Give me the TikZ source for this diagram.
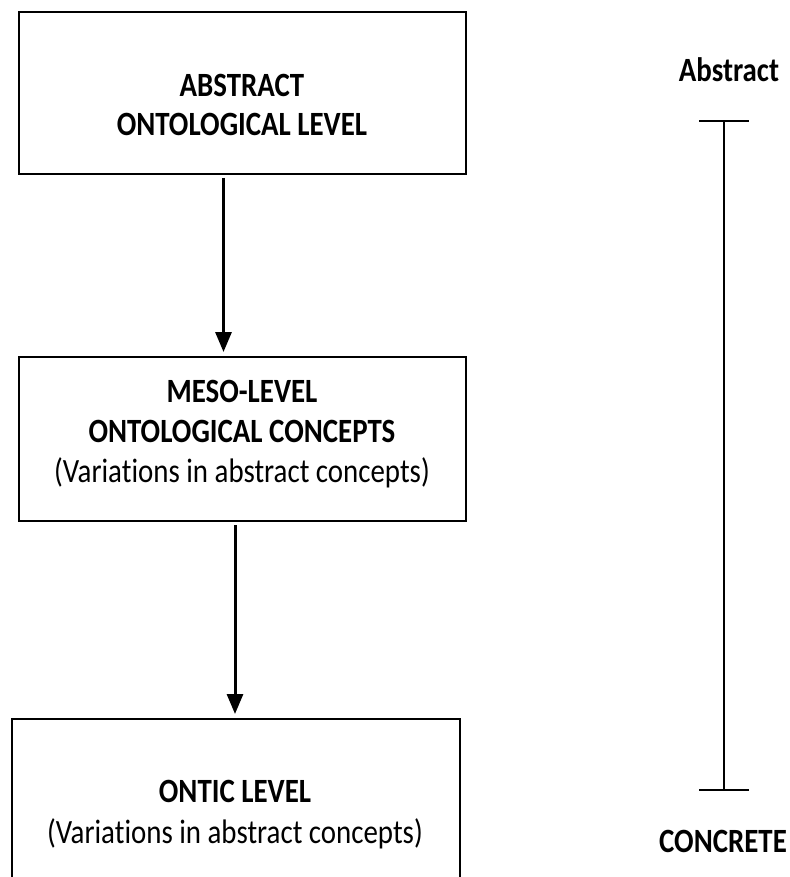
\documentclass[tikz,border=0pt]{standalone}
\usepackage{fontspec}
\setmainfont{Carlito}[FakeStretch=0.85, Ligatures=NoCommon]
\usetikzlibrary{arrows.meta}
\tikzset{
  levelbox/.style={draw=black, line width=2pt, inner sep=0pt},
  boxtext/.style={anchor=base, inner sep=0pt, font=\fontsize{34}{40}\selectfont},
  boldtext/.style={boxtext, font=\fontsize{34}{40}\selectfont\bfseries},
  flow/.style={line width=3pt, -{Triangle[length=20pt,width=16pt]}, shorten >=4pt, shorten <=3pt},
  scalebar/.style={line width=2pt, {Bar[width=50pt,line width=2pt]}-{Bar[width=50pt,line width=2pt]}}
}
\begin{document}
\begin{tikzpicture}[x=1pt,y=-1pt]
  \clip (0,0) rectangle (789,877);
  \useasboundingbox (0,0) rectangle (789,877);

  % level boxes
  \node[levelbox, minimum width=447pt, minimum height=162pt] (b1) at (242.5,93) {};
  \node[levelbox, minimum width=447pt, minimum height=164pt] (b2) at (242,439) {};
  \node[levelbox, minimum width=448pt, minimum height=240pt, anchor=north] (b3) at (236,718) {};

  % box texts
  \node[boldtext] (t1a) at (242,97)  {ABSTRACT};
  \node[boldtext] (t1b) at (242,136) {ONTOLOGICAL LEVEL};
  \node[boldtext] (t2a) at (242,402) {MESO-LEVEL};
  \node[boldtext] (t2b) at (242,442) {ONTOLOGICAL CONCEPTS};
  \node[boxtext]  (t2c) at (242,482) {(Variations in abstract concepts)};
  \node[boldtext] (t3a) at (235,802) {ONTIC LEVEL};
  \node[boxtext]  (t3b) at (235,843) {(Variations in abstract concepts)};

  % downward flow between levels
  \draw[flow] ([xshift=-19pt]b1.south) -- ([xshift=-19pt]b1.south |- b2.north);
  \draw[flow] ([xshift=-7pt]b2.south) -- ([xshift=-7pt]b2.south |- b3.north);

  % abstract-to-concrete scale
  \coordinate (stop) at (724,120);
  \coordinate (sbot) at (724,791);
  \draw[scalebar] (stop) -- (sbot);
  \node[boldtext] (lab1) at (729,82)  {Abstract};
  \node[boldtext] (lab2) at (723,852) {CONCRETE};
\end{tikzpicture}
\end{document}
